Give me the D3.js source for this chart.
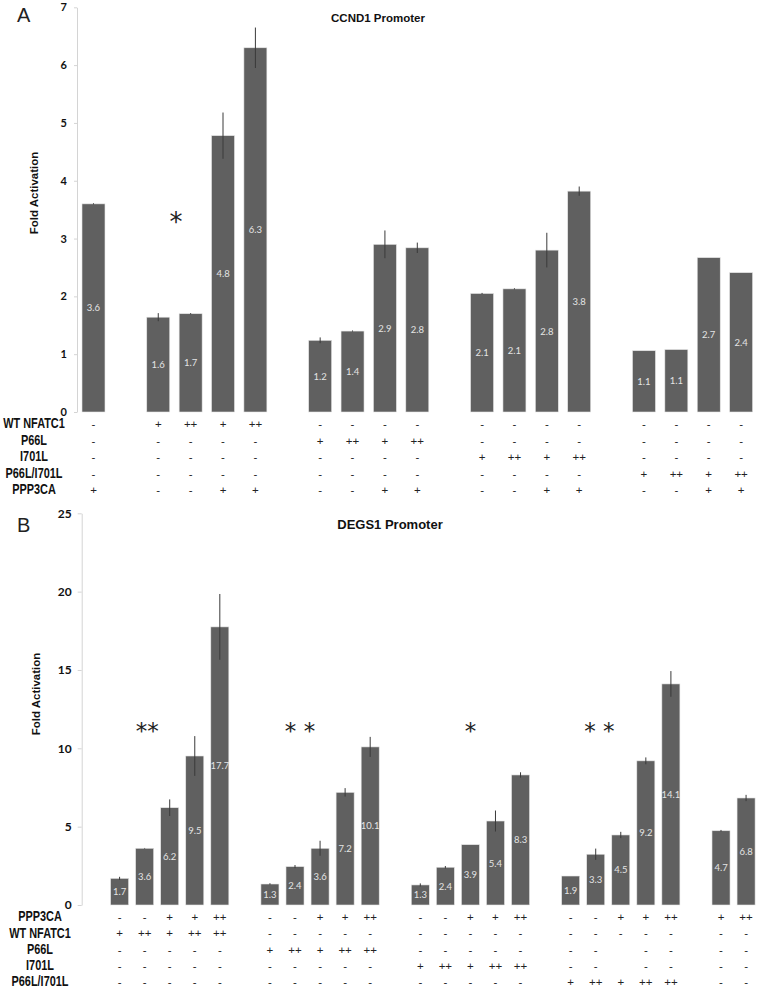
<!DOCTYPE html>
<html><head><meta charset="utf-8">
<script src="https://cdn.jsdelivr.net/npm/d3@7"></script>
<style>
body{margin:0;background:#fff;}
svg{display:block;opacity:0.999;}
text{-webkit-font-smoothing:antialiased;}
</style></head>
<body>
<svg id="chart" width="759" height="990"></svg>
<script>
// ---------- Panel A: CCND1 Promoter ----------
const topTitle = "CCND1 Promoter";
const topGroupSizes = [1, 4, 4, 4, 4];
const topValues = [3.6, 1.64, 1.7, 4.78, 6.3, 1.24, 1.4, 2.9, 2.84, 2.05, 2.13, 2.8, 3.82, 1.06, 1.08, 2.67, 2.41];
const topErrors = [0.01, 0.07, 0.01, 0.4, 0.35, 0.05, 0.01, 0.24, 0.09, 0.01, 0.01, 0.3, 0.08, 0, 0, 0, 0];
const topLabels = ["3.6", "1.6", "1.7", "4.8", "6.3", "1.2", "1.4", "2.9", "2.8", "2.1", "2.1", "2.8", "3.8", "1.1", "1.1", "2.7", "2.4"];
const topTicks = [0, 1, 2, 3, 4, 5, 6, 7];
const topRowNames = ["WT NFATC1", "P66L", "I701L", "P66L/I701L", "PPP3CA"];
const topRows = [
  ["-", "+", "++", "+", "++", "-", "-", "-", "-", "-", "-", "-", "-", "-", "-", "-", "-"],
  ["-", "-", "-", "-", "-", "+", "++", "+", "++", "-", "-", "-", "-", "-", "-", "-", "-"],
  ["-", "-", "-", "-", "-", "-", "-", "-", "-", "+", "++", "+", "++", "-", "-", "-", "-"],
  ["-", "-", "-", "-", "-", "-", "-", "-", "-", "-", "-", "-", "-", "+", "++", "+", "++"],
  ["+", "-", "-", "+", "+", "-", "-", "+", "+", "-", "-", "+", "+", "-", "-", "+", "+"]
];
const topStars = [{bar: 1, text: "*", dx: 0.55}];

// ---------- Panel B: DEGS1 Promoter ----------
const botTitle = "DEGS1 Promoter";
const botGroupSizes = [5, 5, 5, 5, 2];
const botValues = [1.7, 3.62, 6.21, 9.51, 17.75, 1.34, 2.45, 3.62, 7.19, 10.09, 1.28, 2.41, 3.85, 5.36, 8.3, 1.85, 3.24, 4.47, 9.2, 14.11, 4.74, 6.83];
const botErrors = [0.1, 0.02, 0.53, 1.27, 2.1, 0.05, 0.1, 0.48, 0.27, 0.64, 0.1, 0.08, 0, 0.67, 0.17, 0, 0.36, 0.2, 0.22, 0.82, 0.05, 0.2];
const botLabels = ["1.7", "3.6", "6.2", "9.5", "17.7", "1.3", "2.4", "3.6", "7.2", "10.1", "1.3", "2.4", "3.9", "5.4", "8.3", "1.9", "3.3", "4.5", "9.2", "14.1", "4.7", "6.8"];
const botTicks = [0, 5, 10, 15, 20, 25];
const botRowNames = ["PPP3CA", "WT NFATC1", "P66L", "I701L", "P66L/I701L"];
const botRows = [
  ["-", "-", "+", "+", "++", "-", "-", "+", "+", "++", "-", "-", "+", "+", "++", "-", "-", "+", "+", "++", "+", "++"],
  ["+", "++", "+", "++", "++", "-", "-", "-", "-", "-", "-", "-", "-", "-", "-", "-", "-", "-", "-", "-", "-", "-"],
  ["-", "-", "-", "-", "-", "+", "++", "+", "++", "++", "-", "-", "-", "-", "-", "-", "-", "", "-", "-", "-", "-"],
  ["-", "-", "-", "-", "-", "-", "-", "-", "-", "-", "+", "++", "+", "++", "++", "-", "-", "", "-", "-", "-", "-"],
  ["-", "-", "-", "-", "-", "-", "-", "-", "-", "-", "-", "-", "-", "-", "-", "+", "++", "+", "++", "++", "-", "-"]
];
const botStars = [
  {bar: 1, text: "**", dx: 0.1},
  {bar: 6, text: "* *", dx: 0.2},
  {bar: 12, text: "*", dx: 0.0},
  {bar: 16, text: "* *", dx: 0.15}
];

const svg = d3.select("#chart");

function slotsFor(groupSizes, leading) {
  const slots = [];
  let s = leading ? 1 : 0;
  groupSizes.forEach(n => {
    for (let i = 0; i < n; i++) slots.push(s++);
    s++;
  });
  return {slots, total: s - 1};
}

function drawPanel(cfg) {
  const g = svg.append("g");
  const {slots, total} = slotsFor(cfg.groupSizes, cfg.leading);
  const x = d3.scaleBand()
    .domain(d3.range(total))
    .range(cfg.xRange)
    .paddingInner(cfg.padIn)
    .paddingOuter(cfg.padIn / 2);
  const y = d3.scaleLinear().domain(cfg.yDomain).range(cfg.yRange);

  const axis = d3.axisLeft(y).tickValues(cfg.ticks).tickFormat(d3.format("d"))
    .tickSize(cfg.tickSize).tickSizeOuter(0).tickPadding(cfg.tickPad);
  const ag = g.append("g").attr("transform", `translate(${cfg.axisX},0)`).call(axis);
  ag.select(".domain").attr("stroke", "#d4d4d4");
  ag.selectAll(".tick line").attr("stroke", "#d4d4d4");
  ag.selectAll(".tick text")
    .attr("font-family", "Lato, 'Open Sans', sans-serif")
    .attr("font-weight", "bold")
    .attr("font-size", cfg.tickFont)
    .attr("fill", "#111");

  const data = cfg.values.map((v, i) => ({v, e: cfg.errors[i], label: cfg.labels[i], slot: slots[i]}));

  g.selectAll("rect.bar").data(data).join("rect")
    .attr("class", "bar")
    .attr("x", d => x(d.slot))
    .attr("width", x.bandwidth())
    .attr("y", d => y(d.v))
    .attr("height", d => y(0) - y(d.v))
    .attr("fill", "#606060")
    .attr("stroke", "#e6e6e6")
    .attr("stroke-width", 0.6);

  g.selectAll("line.err").data(data.filter(d => d.e > 0)).join("line")
    .attr("class", "err")
    .attr("x1", d => x(d.slot) + x.bandwidth() / 2)
    .attr("x2", d => x(d.slot) + x.bandwidth() / 2)
    .attr("y1", d => y(d.v + d.e))
    .attr("y2", d => y(d.v - d.e))
    .attr("stroke", "#3a3a3a")
    .attr("stroke-width", 1);

  g.selectAll("text.val").data(data).join("text")
    .attr("class", "val")
    .attr("x", d => x(d.slot) + x.bandwidth() / 2)
    .attr("y", d => (y(d.v) + y(0)) / 2)
    .attr("text-anchor", "middle")
    .attr("dominant-baseline", "central")
    .attr("font-family", "Lato, 'Open Sans', sans-serif")
    .attr("font-size", cfg.valFont)
    .attr("fill", "#e4e4e4")
    .text(d => d.label);

  g.append("text")
    .attr("x", cfg.titleX).attr("y", cfg.titleY)
    .attr("text-anchor", "middle")
    .attr("font-family", "'Liberation Sans', Arial, sans-serif")
    .attr("font-weight", "bold")
    .attr("font-size", cfg.titleFont)
    .attr("fill", "#111")
    .text(cfg.title);

  g.append("text")
    .attr("x", 17).attr("y", cfg.letterY)
    .attr("font-family", "'Liberation Sans', Arial, sans-serif")
    .attr("font-size", 20)
    .attr("fill", "#222")
    .text(cfg.letter);

  g.append("text")
    .attr("transform", `translate(${cfg.yTitleX},${cfg.yTitleY}) rotate(-90)`)
    .attr("text-anchor", "middle")
    .attr("dominant-baseline", "central")
    .attr("font-family", "'Liberation Sans', Arial, sans-serif")
    .attr("font-weight", "bold")
    .attr("font-size", 11.5)
    .attr("fill", "#111")
    .text("Fold Activation");

  cfg.stars.forEach(s => {
    g.append("text")
      .attr("x", x(slots[s.bar]) + x.bandwidth() / 2 + s.dx * x.step())
      .attr("y", cfg.starY + cfg.starFont * 0.42)
      .attr("text-anchor", "middle")
      .attr("font-family", "'DejaVu Sans', sans-serif")
      .attr("font-size", cfg.starFont)
      .attr("fill", "#222")
      .text(s.text);
  });

  cfg.rowNames.forEach((name, r) => {
    const ry = cfg.rowY0 + r * cfg.rowStep;
    g.append("text")
      .attr("transform", `translate(${cfg.rowLabelX},${ry}) scale(0.78,1)`)
      .attr("text-anchor", "middle")
      .attr("dominant-baseline", "central")
      .attr("font-family", "'Liberation Sans', Arial, sans-serif")
      .attr("font-weight", "bold")
      .attr("font-size", 14)
      .attr("fill", "#111")
      .text(name);
    g.selectAll(null).data(cfg.rows[r]).join("text")
      .attr("x", (d, i) => x(slots[i]) + x.bandwidth() / 2)
      .attr("y", ry)
      .attr("text-anchor", "middle")
      .attr("dominant-baseline", "central")
      .attr("font-family", "'Liberation Sans', Arial, sans-serif")
      .attr("font-size", 11.5)
      .attr("fill", "#222")
      .text(d => d);
  });
}

drawPanel({
  title: topTitle, titleX: 378, titleY: 22, titleFont: 11.5,
  letter: "A", letterY: 22,
  groupSizes: topGroupSizes, leading: false,
  values: topValues, errors: topErrors, labels: topLabels, ticks: topTicks,
  xRange: [77.3, 757.3], padIn: 0.29,
  yDomain: [0, 7], yRange: [412, 7.3],
  axisX: 77, tickSize: 3, tickPad: 7, tickFont: 11,
  valFont: 9.5,
  yTitleX: 34, yTitleY: 193,
  stars: topStars, starY: 220, starFont: 26,
  rowNames: topRowNames, rows: topRows, rowY0: 424, rowStep: 16.5, rowLabelX: 34
});

drawPanel({
  title: botTitle, titleX: 390, titleY: 529, titleFont: 13,
  letter: "B", letterY: 532,
  groupSizes: botGroupSizes, leading: true,
  values: botValues, errors: botErrors, labels: botLabels, ticks: botTicks,
  xRange: [82, 758.6], padIn: 0.28,
  yDomain: [0, 25], yRange: [905, 513.3],
  axisX: 81.7, tickSize: 4, tickPad: 6, tickFont: 12,
  valFont: 9.5,
  yTitleX: 36, yTitleY: 694,
  stars: botStars, starY: 729, starFont: 23,
  rowNames: botRowNames, rows: botRows, rowY0: 917, rowStep: 16.25, rowLabelX: 40
});
</script>
</body></html>
